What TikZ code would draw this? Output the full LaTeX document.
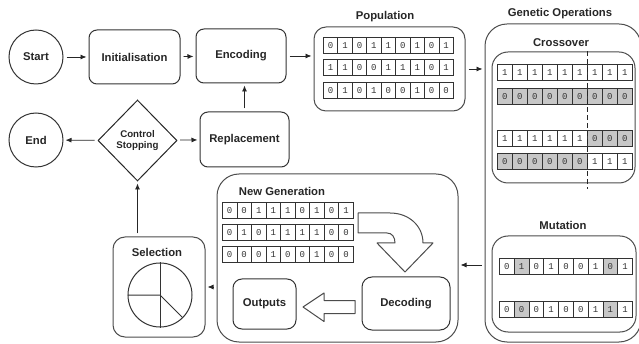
\documentclass[tikz,border=0pt]{standalone}
\usepackage{fontspec}
\setmainfont{Liberation Sans}
\newfontfamily\bitfont{Liberation Mono}
\usetikzlibrary{arrows.meta,shapes.geometric}

\tikzset{
  procbox/.style={draw=black!80, line width=1pt, rounded corners=8pt, inner sep=0pt,
    font=\bfseries\fontsize{11.3}{13}\selectfont, text=black!85},
  termnode/.style={circle, draw=black!80, line width=1pt, minimum size=54pt, inner sep=0pt,
    font=\bfseries\fontsize{11.3}{13}\selectfont, text=black!85},
  decide/.style={diamond, draw=black!85, line width=1pt, inner sep=0pt, align=center,
    font=\bfseries\fontsize{9.7}{11}\selectfont, text=black!85},
  grpbox/.style={draw=black!70, line width=1pt, rounded corners=#1, inner sep=0pt},
  grpbox/.default=14pt,
  heading/.style={inner sep=0pt, font=\bfseries\fontsize{11.3}{13}\selectfont, text=black!85},
  bitcell/.style={draw=black!80, line width=0.7pt, inner sep=0pt, minimum height=16pt,
    anchor=north west, font=\bitfont\fontsize{9}{9}\selectfont, text=black!80},
  cw/.style={fill=white},
  cg/.style={fill=black!22},
  flow/.style={-{Latex[length=6pt,width=5pt]}, line width=0.8pt, draw=black!85,
    shorten <=3pt, shorten >=2pt},
  hollow/.style={draw=black!70, line width=1pt, fill=white, line join=round},
  cutline/.style={draw=black!85, line width=1.2pt, dash pattern=on 5pt off 3pt},
}

% one chromosome: name, left x, top y, cell width, bit/fill pairs
\newcommand{\bitrow}[5]{%
  \foreach \b/\f [count=\c] in {#5}
    \node[bitcell,\f,minimum width=#4pt] (#1-\c) at ({#2+(\c-1)*#4},#3) {\b};
}

\begin{document}
\begin{tikzpicture}[x=1pt,y=-1pt]
  \useasboundingbox (0,0) rectangle (639,344);

  % main loop
  \node[termnode] (start) at (36,57) {Start};
  \node[procbox, minimum width=91pt, minimum height=54pt] (init) at (134.5,57) {Initialisation};
  \node[procbox, minimum width=90pt, minimum height=54pt] (enc) at (241,56) {Encoding};
  \node[termnode] (end) at (36,140) {End};
  \node[decide, minimum width=79pt, minimum height=81pt] (dia) at (137.5,140.5) {Control\\Stopping};
  \node[procbox, minimum width=89pt, minimum height=55pt] (rep) at (244.5,139.5) {Replacement};

  % population
  \node[heading] (poptitle) at (385,17) {Population};
  \node[grpbox=12pt, minimum width=151pt, minimum height=84pt] (popbox) at (389.5,69) {};
  \bitrow{pa}{323}{37}{14.44}{0/cw,1/cw,0/cw,1/cw,1/cw,0/cw,1/cw,0/cw,1/cw}
  \bitrow{pb}{323}{59.5}{14.44}{1/cw,1/cw,0/cw,0/cw,1/cw,1/cw,1/cw,0/cw,1/cw}
  \bitrow{pc}{323}{82}{14.44}{0/cw,1/cw,0/cw,1/cw,0/cw,0/cw,1/cw,0/cw,0/cw}

  % genetic operations
  \node[heading] (gentitle) at (560,14) {Genetic Operations};
  \node[grpbox=22pt, minimum width=156pt, minimum height=318pt] (genbox) at (563,183) {};
  \node[heading] (crosstitle) at (561,43) {Crossover};
  \node[grpbox=16pt, minimum width=143pt, minimum height=131pt] (crossbox) at (563.5,117.5) {};
  \bitrow{xa}{497}{64}{15}{1/cw,1/cw,1/cw,1/cw,1/cw,1/cw,1/cw,1/cw,1/cw}
  \bitrow{xb}{497}{88}{15}{0/cg,0/cg,0/cg,0/cg,0/cg,0/cg,0/cg,0/cg,0/cg}
  \bitrow{xc}{497}{130}{15}{1/cw,1/cw,1/cw,1/cw,1/cw,1/cw,0/cg,0/cg,0/cg}
  \bitrow{xd}{497}{153.5}{15}{0/cg,0/cg,0/cg,0/cg,0/cg,0/cg,1/cw,1/cw,1/cw}
  \draw[cutline] (xa-6.north east |- crossbox.north) -- ([yshift=-6pt]xd-6.south east |- crossbox.south);
  \node[heading] (muttitle) at (563,225) {Mutation};
  \node[grpbox=16pt, minimum width=144pt, minimum height=96pt] (mutbox) at (564,284) {};
  \bitrow{ma}{499}{258.5}{14.8}{0/cw,1/cg,0/cw,1/cw,0/cw,0/cw,1/cw,0/cg,1/cw}
  \bitrow{mb}{499}{301}{14.8}{0/cw,0/cg,0/cw,1/cw,0/cw,0/cw,1/cw,1/cg,1/cw}

  % new generation
  \node[grpbox=22pt, minimum width=241pt, minimum height=168pt] (ngbox) at (337.5,258) {};
  \node[heading] (ngtitle) at (282,191) {New Generation};
  \bitrow{na}{222}{202}{14.55}{0/cw,0/cw,1/cw,1/cw,1/cw,0/cw,1/cw,0/cw,1/cw}
  \bitrow{nb}{222}{224}{14.55}{0/cw,1/cw,0/cw,1/cw,1/cw,1/cw,1/cw,0/cw,0/cw}
  \bitrow{nc}{222}{246}{14.55}{0/cw,0/cw,0/cw,1/cw,0/cw,0/cw,1/cw,0/cw,0/cw}
  \draw[hollow] (358,213) -- (390,213) .. controls (409,213) and (423,226) .. (423,243)
    -- (433,243) -- (405,272) -- (377,243) -- (395,243)
    .. controls (395,237) and (392,233) .. (387,233) -- (358,233) -- cycle;
  \node[procbox, rounded corners=10pt, minimum width=88pt, minimum height=53pt] (dec) at (406,303.5) {Decoding};
  \node[procbox, rounded corners=9pt, minimum width=63pt, minimum height=50pt] (outp) at (264.5,304) {Outputs};
  \draw[hollow] (355,300.5) -- (324,300.5) -- (324,293) -- (303,307) -- (324,321.5)
    -- (324,313.5) -- (355,313.5) -- cycle;

  % selection
  \node[grpbox=12pt, minimum width=92pt, minimum height=100pt] (selbox) at (159,287) {};
  \node[heading] (seltitle) at (157,252) {Selection};
  \node[circle, draw=black!80, line width=1pt, minimum size=64pt, inner sep=0pt] (pie) at (160,295) {};
  \draw[line width=1pt, black!80] (pie.north) -- (pie.south);
  \draw[line width=1pt, black!80] (pie.west) -- (pie.center) -- (pie.-45);

  % connectors
  \coordinate (ret) at (470,265);
  \draw[flow] (start) -- (init);
  \draw[flow] (init) -- (enc);
  \draw[flow] (enc) -- (enc -| popbox.west);
  \draw[flow] (popbox) -- (popbox -| genbox.west);
  \draw[flow] (ret -| genbox.west) -- (ret -| ngbox.east);
  \draw[flow] (ngbox.west |- selbox.east) -- (selbox.east);
  \draw[flow] (selbox.north -| dia) -- (dia.south);
  \draw[flow] (dia) -- (end);
  \draw[flow] (dia) -- (rep);
  \draw[flow] (rep) -- (rep |- enc.south);
\end{tikzpicture}
\end{document}
